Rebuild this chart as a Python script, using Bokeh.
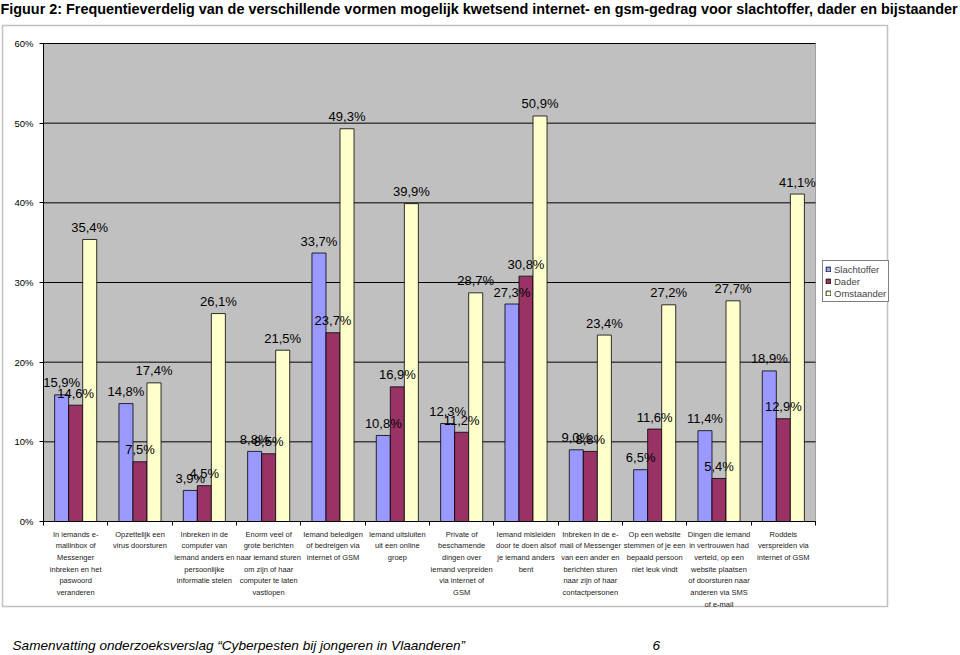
from bokeh.plotting import figure
from bokeh.models import (ColumnDataSource, FixedTicker, Label, Legend, LegendItem,
                          PolyAnnotation, Range1d)
from bokeh.core.properties import value
from bokeh.embed import file_html
from bokeh.resources import INLINE

# ---------------- data ----------------
categories = [
    "In iemands e-\nmailinbox of\nMessenger\ninbreken en het\npaswoord\nveranderen",
    "Opzettelijk een\nvirus doorsturen",
    "Inbreken in de\ncomputer van\niemand anders en\npersoonlijke\ninformatie stelen",
    "Enorm veel of\ngrote berichten\nnaar iemand sturen\nom zijn of haar\ncomputer te laten\nvastlopen",
    "Iemand beledigen\nof bedreigen via\ninternet of GSM",
    "Iemand uitsluiten\nuit een online\ngroep",
    "Private of\nbeschamende\ndingen over\niemand verpreiden\nvia internet of\nGSM",
    "Iemand misleiden\ndoor te doen alsof\nje iemand anders\nbent",
    "Inbreken in de e-\nmail of Messenger\nvan een ander en\nberichten sturen\nnaar zijn of haar\ncontactpersonen",
    "Op een website\nstemmen of je een\nbepaald persoon\nniet leuk vindt",
    "Dingen die iemand\nin vertrouwen had\nverteld, op een\nwebsite plaatsen\nof doorsturen naar\nanderen via SMS\nof e-mail",
    "Roddels\nverspreiden via\ninternet of GSM",
]
slachtoffer = [15.9, 14.8, 3.9, 8.8, 33.7, 10.8, 12.3, 27.3, 9.0, 6.5, 11.4, 18.9]
dader = [14.6, 7.5, 4.5, 8.5, 23.7, 16.9, 11.2, 30.8, 8.8, 11.6, 5.4, 12.9]
omstaander = [35.4, 17.4, 26.1, 21.5, 49.3, 39.9, 28.7, 50.9, 23.4, 27.2, 27.7, 41.1]
series_names = ["Slachtoffer", "Dader", "Omstaander"]
series_colors = ["#9999FF", "#993366", "#FFFFCC"]
y_ticks = [0, 10, 20, 30, 40, 50, 60]
y_tick_labels = ["0%", "10%", "20%", "30%", "40%", "50%", "60%"]
title_text = ("Figuur 2: Frequentieverdelig van de verschillende vormen mogelijk kwetsend "
              "internet- en gsm-gedrag voor slachtoffer, dader en bijstaander")
footer_text = "Samenvatting onderzoeksverslag \u201cCyberpesten bij jongeren in Vlaanderen\u201d"
page_number = "6"

# ---------------- layout ----------------
W, H = 960, 655
FL, FT, FR, FB = 43, 43, 815, 521  # plot-area edges in page pixels
n = len(categories)
YMAX = y_ticks[-1]
sx = (FR - FL) / n        # pixels per category
sy = (FB - FT) / YMAX     # pixels per percent


def px_x(X):
    return (X - FL) / sx


def px_y(Y):
    return (FB - Y) / sy


p = figure(width=W, height=H,
           x_range=Range1d(px_x(0), px_x(W)), y_range=Range1d(px_y(H), px_y(0)),
           output_backend="svg", toolbar_location=None,
           min_border=0, min_border_left=0, min_border_right=0,
           min_border_top=0, min_border_bottom=0,
           background_fill_color="white", border_fill_color="white",
           outline_line_color=None)

# plot area background and gridlines
p.quad(left=[0], right=[n], bottom=[0], top=[YMAX], fill_color="#C0C0C0",
       line_color="#A0A0A0", line_width=1)
p.segment(x0=[0] * len(y_ticks), x1=[n] * len(y_ticks), y0=y_ticks, y1=y_ticks,
          line_color="black", line_width=1)

centers = [i + 0.5 for i in range(n)]
bw = 0.218
offsets = [-bw, 0.0, bw]
renderers = []
sources = []
for vals, name, color, off in zip([slachtoffer, dader, omstaander], series_names,
                                  series_colors, offsets):
    src = ColumnDataSource(dict(
        x=[c + off for c in centers], top=vals,
        label=[("%.1f%%" % v).replace(".", ",") for v in vals]))
    r = p.vbar(x="x", top="top", width=bw, source=src, fill_color=color,
               line_color="black", line_width=0.8)
    renderers.append(r)
    sources.append(src)

for src in sources:
    p.text(x="x", y="top", text="label", source=src,
           text_font=value("Liberation Sans"), text_font_size="13px",
           text_align="center", text_baseline="alphabetic", y_offset=-12,
           text_color="black")

# axes (fixed inside the canvas)
p.yaxis.fixed_location = 0
p.yaxis.bounds = (0, YMAX)
p.yaxis.ticker = FixedTicker(ticks=y_ticks)
p.yaxis.major_label_overrides = {t: l for t, l in zip(y_ticks, y_tick_labels)}
p.yaxis.major_tick_out = 4
p.yaxis.major_tick_in = 0
p.yaxis.minor_tick_out = 0
p.yaxis.minor_tick_in = 0
p.yaxis.major_label_standoff = 6
p.yaxis.major_label_text_font = "Liberation Sans"
p.yaxis.major_label_text_font_size = "9.5px"
p.yaxis.major_label_text_color = "black"
p.yaxis.axis_line_color = "black"
p.yaxis.major_tick_line_color = "black"

p.xaxis.fixed_location = 0
p.xaxis.bounds = (0, n)
p.xaxis.ticker = FixedTicker(ticks=centers, minor_ticks=list(range(n + 1)))
p.xaxis.major_label_overrides = {c: lab for c, lab in zip(centers, categories)}
p.xaxis.major_tick_out = 0
p.xaxis.major_tick_in = 0
p.xaxis.minor_tick_out = 4
p.xaxis.minor_tick_in = 0
p.xaxis.minor_tick_line_color = "black"
p.xaxis.major_label_standoff = 4
p.xaxis.major_label_text_font = "Liberation Sans"
p.xaxis.major_label_text_font_size = "7.5px"
p.xaxis.major_label_text_line_height = 1.3
p.xaxis.major_label_text_color = "#222222"
p.xaxis.axis_line_color = "black"

p.xgrid.grid_line_color = None
p.ygrid.grid_line_color = None

# legend
legend = Legend(items=[LegendItem(label=nm, renderers=[r]) for nm, r in zip(series_names, renderers)],
                location=(822, H - 302), orientation="vertical",
                border_line_color="black", border_line_width=1,
                background_fill_color="white", background_fill_alpha=1,
                label_text_font="Liberation Sans", label_text_font_size="9.5px",
                glyph_width=6, glyph_height=6, label_height=12, label_width=46,
                label_standoff=3, spacing=0, padding=2, margin=0)
p.add_layout(legend, "center")

# outer frame
fx = [px_x(2), px_x(887), px_x(887), px_x(2)]
fy = [px_y(25), px_y(25), px_y(606), px_y(606)]
p.add_layout(PolyAnnotation(xs=fx, ys=fy, fill_alpha=0, line_color="#333333",
                            line_width=1.5))

# title and footer
p.add_layout(Label(x=px_x(0), y=px_y(8), text=title_text, text_align="left",
                   text_baseline="middle", text_font="Liberation Sans",
                   text_font_style="bold", text_font_size="14.4px", text_color="black"))
p.add_layout(Label(x=px_x(12), y=px_y(645), text=footer_text, text_align="left",
                   text_baseline="middle", text_font="Liberation Sans",
                   text_font_style="italic", text_font_size="13.6px", text_color="black"))
p.add_layout(Label(x=px_x(652), y=px_y(645), text=page_number, text_align="left",
                   text_baseline="middle", text_font="Liberation Sans",
                   text_font_style="italic", text_font_size="13.6px", text_color="black"))

open("out.html", "w").write(file_html(p, INLINE))
